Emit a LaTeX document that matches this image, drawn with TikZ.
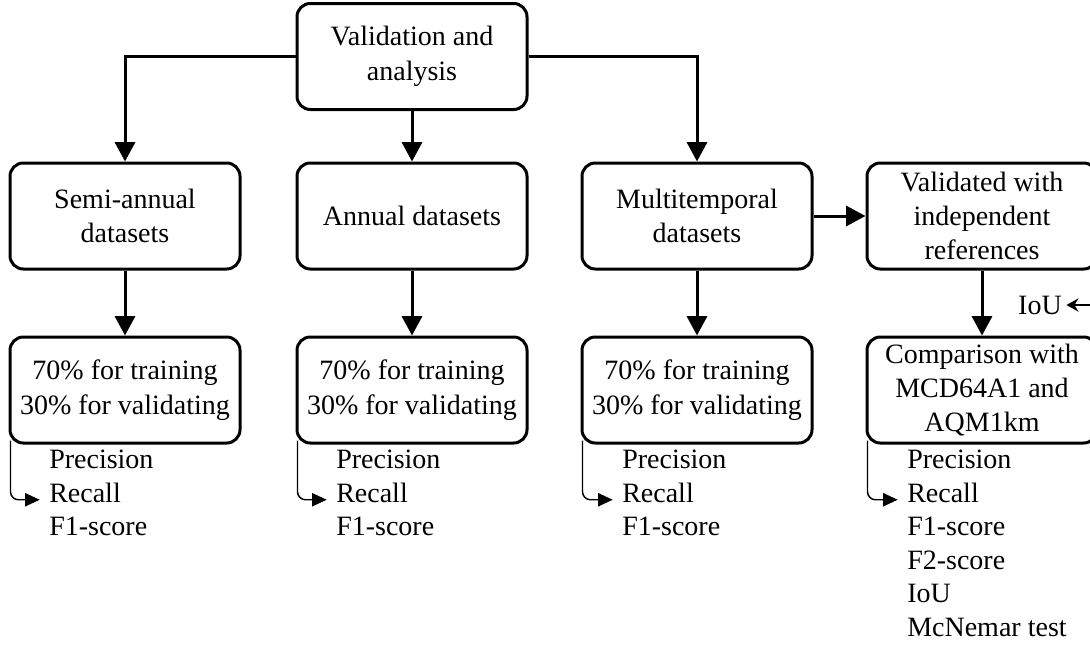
\documentclass[tikz,border=0pt]{standalone}
\usepackage{fontspec}
\setmainfont{Liberation Serif}
\usetikzlibrary{arrows.meta,positioning}

\begin{document}
\begin{tikzpicture}[x=0.75pt,y=-0.75pt,font=\fontsize{21}{25.8}\selectfont,
	box/.style={draw,line width=2.25pt,rounded corners=10pt,minimum width=172.5pt,minimum height=79.5pt,align=center,inner sep=2pt},
	flow/.style={line width=2.25pt,-{Triangle[width=15pt,length=14.5pt]}},
	sub/.style={line width=1.1pt,rounded corners=6pt,-{Triangle[width=10pt,length=11pt]}},
	metric/.style={inner sep=0pt,anchor=base west}]
	\useasboundingbox (0,0) rectangle (1090,646);

	%boxes
	\node[box] (top) at (412,56.5) {Validation and\\analysis};
	\node[box] (semi) at (125,216) {Semi-annual\\datasets};
	\node[box] (annual) at (412,216) {Annual datasets};
	\node[box] (multi) at (697,216) {Multitemporal\\datasets};
	\node[box] (indep) at (982,216) {Validated with\\independent\\references};
	\node[box] (semisplit) at (125,390) {70\% for training\\30\% for validating};
	\node[box] (annsplit) at (412,390) {70\% for training\\30\% for validating};
	\node[box] (multsplit) at (697,390) {70\% for training\\30\% for validating};
	\node[box] (compare) at (982,390) {Comparison with\\MCD64A1 and\\AQM1km};

	%metrics
	\node[metric] (semiprec) at (49,468) {Precision};
	\node[metric] (semirec) at (49,502) {Recall};
	\node[metric] (semif1) at (49,535.6) {F1-score};
	\node[metric] (annprec) at (336,468) {Precision};
	\node[metric] (annrec) at (336,502) {Recall};
	\node[metric] (annf1) at (336,535.6) {F1-score};
	\node[metric] (multprec) at (622,468) {Precision};
	\node[metric] (multrec) at (622,502) {Recall};
	\node[metric] (multf1) at (622,535.6) {F1-score};
	\node[metric] (cmpprec) at (907,468) {Precision};
	\node[metric] (cmprec) at (907,502) {Recall};
	\node[metric] (cmpf1) at (907,535.6) {F1-score};
	\node[metric] (cmpf2) at (907,569.2) {F2-score};
	\node[metric] (cmpiou) at (907,602.8) {IoU};
	\node[metric] (cmpmcn) at (907,636.4) {McNemar test};

	%IoU input
	\node (iou) at (1040,305) {IoU};
	\coordinate (iousrc) at (1100,305);

	%arrows
	\draw[flow] (top.west) -| (semi.north);
	\draw[flow] (top.south) -- (annual.north);
	\draw[flow] (top.east) -| (multi.north);
	\draw[flow] (multi.east) -- (indep.west);
	\draw[flow] (semi.south) -- (semisplit.north);
	\draw[flow] (annual.south) -- (annsplit.north);
	\draw[flow] (multi.south) -- (multsplit.north);
	\draw[flow] (indep.south) -- (compare.north);
	\draw[line width=1.1pt,-{Stealth[width=10pt,length=9pt,inset=3pt]}] (iousrc) -- (iou.east);

	%metric arrows
	\draw[sub] ([xshift=1.5pt,yshift=3pt]semisplit.south west) |- ([xshift=-7pt,yshift=-5.5pt]semirec.west);
	\draw[sub] ([xshift=1.5pt,yshift=3pt]annsplit.south west) |- ([xshift=-7pt,yshift=-5.5pt]annrec.west);
	\draw[sub] ([xshift=1.5pt,yshift=3pt]multsplit.south west) |- ([xshift=-7pt,yshift=-5.5pt]multrec.west);
	\draw[sub] ([xshift=1.5pt,yshift=3pt]compare.south west) |- ([xshift=-7pt,yshift=-5.5pt]cmprec.west);
\end{tikzpicture}
\end{document}
